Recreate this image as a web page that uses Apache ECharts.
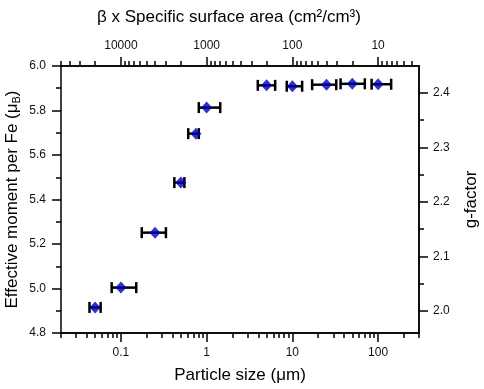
<!DOCTYPE html>
<html>
<head>
<meta charset="utf-8">
<script src="https://cdn.jsdelivr.net/npm/echarts@6/dist/echarts.min.js"></script>
<style>
  html, body { margin: 0; padding: 0; background: #fff; }
  #chart { width: 484px; height: 389px; }
</style>
</head>
<body>
<div id="chart"></div>
<script>
// particle size (um) and effective moment per Fe (uB)
const sizes = [0.05, 0.1, 0.25, 0.5, 0.75, 1, 5, 10, 25, 50, 100];
const moments = [4.915, 5.004, 5.251, 5.476, 5.696, 5.813, 5.913, 5.909, 5.916, 5.92, 5.918];
// horizontal error bar ends
const sizeLow = [0.043, 0.078, 0.175, 0.42, 0.61, 0.81, 3.95, 8.6, 17, 36.5, 84];
const sizeHigh = [0.058, 0.151, 0.335, 0.55, 0.81, 1.44, 6.3, 13, 32.5, 70, 142];

// tick labels
const bottomLabels = [0.1, 1, 10, 100];
const bottomMinor = [0.02, 0.03, 0.04, 0.05, 0.06, 0.07, 0.08, 0.09,
  0.2, 0.3, 0.4, 0.5, 0.6, 0.7, 0.8, 0.9, 2, 3, 4, 5, 6, 7, 8, 9,
  20, 30, 40, 50, 60, 70, 80, 90, 200, 300];
const topLabels = [10000, 1000, 100, 10];
const topMinor = [4, 5, 6, 7, 8, 9, 20, 30, 40, 50, 60, 70, 80, 90,
  200, 300, 400, 500, 600, 700, 800, 900, 2000, 3000, 4000, 5000, 6000, 7000, 8000, 9000,
  20000, 30000, 40000, 50000];
const gLabels = [2.0, 2.1, 2.2, 2.3, 2.4];
const gMinor = [2.05, 2.15, 2.25, 2.35];

const SQ6 = Math.sqrt(6); // mu = g * sqrt(S(S+1)), S = 2
const FONT = "Liberation Sans, Arial, sans-serif";
const lineStyle = { color: "#000", width: 1.5 };

function logAxis(opt) {
  return Object.assign({
    type: "log",
    logBase: 10,
    axisLine: { show: true, onZero: false, lineStyle: lineStyle },
    splitLine: { show: false },
    minorTick: { show: false },
    axisLabel: { show: false }
  }, opt);
}

const chart = echarts.init(document.getElementById("chart"));
chart.setOption({
  animation: false,
  backgroundColor: "#fff",
  grid: { left: 61, right: 65, top: 66, bottom: 56, outerBoundsMode: "none", containLabel: false },
  xAxis: [
    logAxis({
      position: "bottom", min: 0.02, max: 300,
      name: "Particle size (μm)", nameLocation: "middle", nameGap: 34,
      nameTextStyle: { fontFamily: FONT, fontSize: 17, color: "#000" },
      axisTick: { show: true, length: 9, lineStyle: lineStyle, customValues: bottomLabels },
      axisLabel: { show: true, margin: 14, fontFamily: FONT, fontSize: 12, color: "#111",
        customValues: bottomLabels, formatter: v => String(v) }
    }),
    logAxis({
      position: "bottom", min: 0.02, max: 300,
      axisTick: { show: true, length: 5, lineStyle: lineStyle, customValues: bottomMinor }
    }),
    logAxis({
      position: "top", min: 1000 / 300, max: 50000, inverse: true,
      name: "β x Specific surface area (cm²/cm³)", nameLocation: "middle", nameGap: 40,
      nameTextStyle: { fontFamily: FONT, fontSize: 17, color: "#000", padding: [0, 22, 0, 0] },
      axisTick: { show: true, length: 9, lineStyle: lineStyle, customValues: topLabels },
      axisLabel: { show: true, margin: 14, fontFamily: FONT, fontSize: 12, color: "#111",
        customValues: topLabels, formatter: v => String(v) }
    }),
    logAxis({
      position: "top", min: 1000 / 300, max: 50000, inverse: true,
      axisTick: { show: true, length: 5, lineStyle: lineStyle, customValues: topMinor }
    })
  ],
  yAxis: [
    {
      type: "value", position: "left", min: 4.8, max: 6.0, interval: 0.2,
      name: "Effective moment per Fe (μ{sub|B})", nameLocation: "middle", nameGap: 39,
      nameMoveOverlap: false,
      nameTextStyle: { fontFamily: FONT, fontSize: 17, color: "#000",
        rich: { sub: { fontFamily: FONT, fontSize: 11, color: "#000", padding: [8, 0, 0, 0] } } },
      axisLine: { show: true, onZero: false, lineStyle: lineStyle },
      axisTick: { show: true, length: 9, lineStyle: lineStyle },
      minorTick: { show: true, splitNumber: 2, length: 5, lineStyle: lineStyle },
      splitLine: { show: false },
      minorSplitLine: { show: false },
      axisLabel: { margin: 15, fontFamily: FONT, fontSize: 12, color: "#111",
        formatter: v => v.toFixed(1) }
    },
    {
      type: "value", position: "right", min: 4.8 / SQ6, max: 6.0 / SQ6,
      name: "g-factor", nameLocation: "middle", nameGap: 44, nameRotate: 90,
      nameMoveOverlap: false,
      nameTextStyle: { fontFamily: FONT, fontSize: 17, color: "#000" },
      axisLine: { show: true, onZero: false, lineStyle: lineStyle },
      axisTick: { show: true, length: 9, lineStyle: lineStyle, customValues: gLabels },
      splitLine: { show: false },
      axisLabel: { margin: 14, fontFamily: FONT, fontSize: 12, color: "#111",
        customValues: gLabels, formatter: v => v.toFixed(1) }
    },
    {
      type: "value", position: "right", min: 4.8 / SQ6, max: 6.0 / SQ6,
      axisLine: { show: true, onZero: false, lineStyle: lineStyle },
      axisTick: { show: true, length: 5, lineStyle: lineStyle, customValues: gMinor },
      splitLine: { show: false },
      axisLabel: { show: false }
    }
  ],
  series: [
    {
      // horizontal error bars
      type: "custom",
      xAxisIndex: 0,
      yAxisIndex: 0,
      encode: { x: [0, 1], y: 2 },
      data: sizes.map((s, i) => [sizeLow[i], sizeHigh[i], moments[i]]),
      renderItem: function (params, api) {
        const y = api.value(2);
        const p1 = api.coord([api.value(0), y]);
        const p2 = api.coord([api.value(1), y]);
        const cap = 5.5;
        const st = { stroke: "#000", lineWidth: 2.5, fill: null };
        return {
          type: "group",
          children: [
            { type: "line", shape: { x1: p1[0], y1: p1[1], x2: p2[0], y2: p2[1] }, style: st },
            { type: "line", shape: { x1: p1[0], y1: p1[1] - cap, x2: p1[0], y2: p1[1] + cap }, style: st },
            { type: "line", shape: { x1: p2[0], y1: p2[1] - cap, x2: p2[0], y2: p2[1] + cap }, style: st }
          ]
        };
      },
      z: 2
    },
    {
      type: "scatter",
      xAxisIndex: 0,
      yAxisIndex: 0,
      symbol: "diamond",
      symbolSize: [11, 12],
      itemStyle: { color: "#0000b4" },
      data: sizes.map((s, i) => [s, moments[i]]),
      z: 3
    }
  ]
});
</script>
</body>
</html>
